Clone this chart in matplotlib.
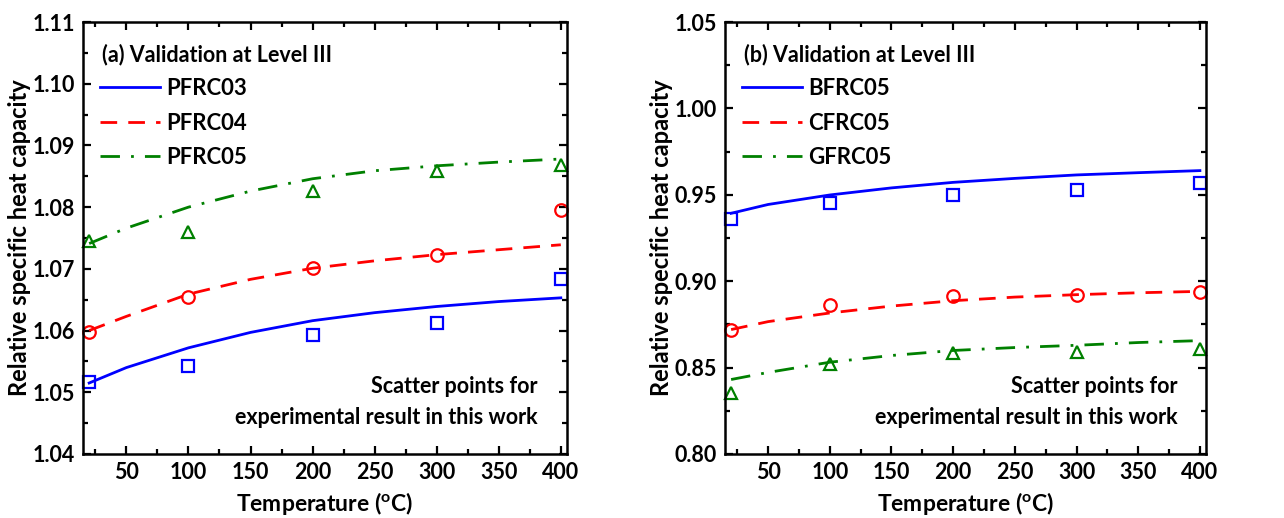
import numpy as np
import matplotlib
matplotlib.use('Agg')
import matplotlib.pyplot as plt
from matplotlib.ticker import MultipleLocator

plt.rcParams['font.family'] = ['Lato', 'DejaVu Sans']
plt.rcParams['font.weight'] = 'bold'

# experimental temps and model curve temps
t_exp = [20, 100, 200, 300, 400]
t_mod = [20, 50, 100, 150, 200, 250, 300, 350, 400]

# (a) PFRC series
pf03_exp = [1.0516, 1.0542, 1.0592, 1.0613, 1.0683]
pf04_exp = [1.0598, 1.0655, 1.0701, 1.0722, 1.0795]
pf05_exp = [1.0745, 1.0760, 1.0826, 1.0858, 1.0869]
pf03_mod = [1.0515, 1.0540, 1.0572, 1.0597, 1.0616, 1.0629, 1.0639, 1.0647, 1.0653]
pf04_mod = [1.0600, 1.0623, 1.0659, 1.0683, 1.0701, 1.0713, 1.0723, 1.0731, 1.0739]
pf05_mod = [1.0741, 1.0766, 1.0800, 1.0826, 1.0846, 1.0859, 1.0867, 1.0873, 1.0878]

# (b) fibre type series
bf_exp = [0.9360, 0.9455, 0.9499, 0.9528, 0.9566]
cf_exp = [0.8720, 0.8860, 0.8912, 0.8922, 0.8935]
gf_exp = [0.8354, 0.8518, 0.8585, 0.8589, 0.8608]
bf_mod = [0.9393, 0.9444, 0.9499, 0.9540, 0.9572, 0.9595, 0.9615, 0.9628, 0.9640]
cf_mod = [0.8720, 0.8766, 0.8816, 0.8856, 0.8887, 0.8908, 0.8922, 0.8933, 0.8941]
gf_mod = [0.8431, 0.8472, 0.8531, 0.8570, 0.8599, 0.8616, 0.8629, 0.8645, 0.8656]

blue = '#0000ff'
red = '#ff0000'
green = '#008000'
l_w = 2.0
m_s = 9

fig = plt.figure(figsize=(12.84, 5.18), dpi=100)
ax1 = fig.add_axes([0.0646, 0.1236, 0.3770, 0.8339])
ax2 = fig.add_axes([0.5646, 0.1236, 0.3747, 0.8339])

panels = [
    (ax1, '(a) Validation at Level III', ['PFRC03', 'PFRC04', 'PFRC05'],
     [pf03_mod, pf04_mod, pf05_mod], [pf03_exp, pf04_exp, pf05_exp],
     (1.04, 1.11), 0.01, 0.005),
    (ax2, '(b) Validation at Level III', ['BFRC05', 'CFRC05', 'GFRC05'],
     [bf_mod, cf_mod, gf_mod], [bf_exp, cf_exp, gf_exp],
     (0.80, 1.05), 0.05, 0.025),
]

for ax, title, names, mods, exps, ylim, ymaj, ymin in panels:
    styles = [(blue, '-', 's'), (red, (0, (6, 4)), 'o'), (green, (0, (7, 4, 1, 4)), '^')]
    handles = []
    for (c, ls, mk), name, ym, ye in zip(styles, names, mods, exps):
        h, = ax.plot(t_mod, ym, color=c, linestyle=ls, linewidth=l_w, label=name)
        ax.plot(t_exp, ye, linestyle='none', marker=mk, markersize=m_s,
                markerfacecolor='none', markeredgecolor=c, markeredgewidth=1.6,
                clip_on=False)
        handles.append(h)
    ax.set_xlim(15, 405)
    ax.set_ylim(*ylim)
    ax.xaxis.set_major_locator(MultipleLocator(50))
    ax.xaxis.set_minor_locator(MultipleLocator(25))
    ax.yaxis.set_major_locator(MultipleLocator(ymaj))
    ax.yaxis.set_minor_locator(MultipleLocator(ymin))
    ax.yaxis.set_major_formatter(matplotlib.ticker.FormatStrFormatter('%.2f'))
    ax.tick_params(which='both', direction='in', top=True, right=True, width=1.6,
                   labelsize=15.5, pad=6)
    ax.tick_params(which='major', length=6)
    ax.tick_params(which='minor', length=3.5)
    for s in ax.spines.values():
        s.set_linewidth(1.8)
    ax.set_xlabel('Temperature ($\\mathregular{^{o}}$C)', fontsize=16.5,
                  fontweight='bold', labelpad=5)
    ax.set_ylabel('Relative specific heat capacity', fontsize=17,
                  fontweight='bold', labelpad=1)
    ax.text(0.04, 0.925, title, transform=ax.transAxes, fontsize=15.5,
            fontweight='bold', va='center', ha='left')
    ax.legend(handles=handles, loc='upper left', bbox_to_anchor=(0.035, 0.87),
              frameon=False, fontsize=16, handlelength=2.7, handletextpad=0.3,
              labelspacing=0.6, borderaxespad=0, borderpad=0)
    ax.text(0.94, 0.12, 'Scatter points for\nexperimental result in this work',
            transform=ax.transAxes, fontsize=15.5, fontweight='bold', ha='right',
            va='center', multialignment='right', linespacing=1.6)

plt.savefig('out.png', dpi=100)
